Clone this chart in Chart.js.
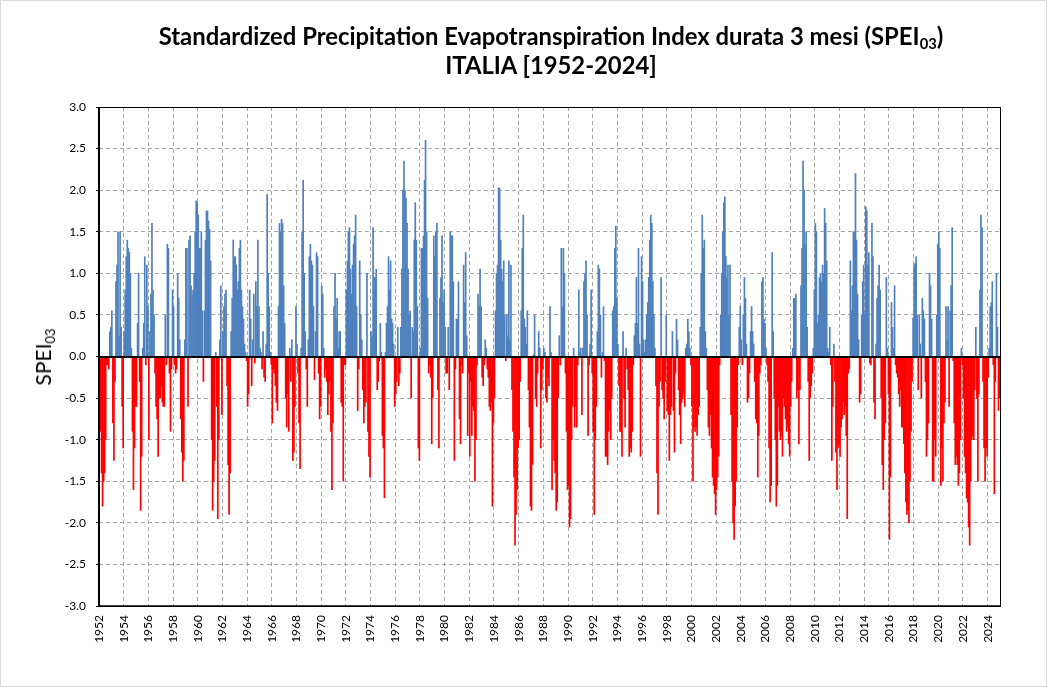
<!DOCTYPE html>
<html>
<head>
<meta charset="utf-8">
<script src="https://cdn.jsdelivr.net/npm/chart.js@4.4.1/dist/chart.umd.min.js"></script>
<style>
  html, body { margin: 0; padding: 0; background: #ffffff; }
  #wrap { position: relative; width: 1049px; height: 689px; overflow: hidden; font-family: Lato, "Open Sans", sans-serif; color: #000; }
  #c { position: absolute; left: 0; top: 0; }
  .t { position: absolute; left: 551px; transform: translateX(-50%); white-space: nowrap; font-weight: bold; font-size: 23px; line-height: 28px; }
  .t sub, #yl sub { font-size: 62%; vertical-align: baseline; position: relative; top: 0.3em; line-height: 0; }
  #yl { position: absolute; left: 43px; top: 357px; transform: translate(-50%, -50%) rotate(-90deg); white-space: nowrap; font-size: 21px; line-height: 26px; }
</style>
</head>
<body>
<div id="wrap">
  <canvas id="c" width="1049" height="689"></canvas>
  <div class="t" id="t1" style="top:22px">Standardized Precipitation Evapotranspiration Index durata 3 mesi (SPEI<sub>03</sub>)</div>
  <div class="t" id="t2" style="top:51px">ITALIA [1952-2024]</div>
  <div id="yl">SPEI<sub>03</sub></div>
</div>
<script>
// ---- data: monthly SPEI-03 values, one row per year ----
const firstYear = 1952;
const lastYear = 2024;

const spei1950s = [
  -0.6, -0.9, -1.4, -1.8, -1.5, -1.4, -1.0, -0.1, -0.1, -0.15, 0.3, 0.35,   // 1952
  0.55, -0.8, -1.25, -0.3, 0.9, 1.1, 1.5, 0.25, 1.5, 0.35, -0.6, -1.1,      // 1953
  0.3, 0.8, 1.2, 1.4, 1.3, 1.25, 1.0, 0.1, -0.9, -1.6, -1.1, -0.6,          // 1954
  -0.6, 0.4, 1.0, -0.3, -1.85, -1.2, 0.1, 0.4, 1.2, -0.1, 1.1, 0.6,         // 1955
  -1.0, 0.3, 0.75, 1.6, 0.8, 0.5, -0.2, -0.6, -0.75, -1.2, -0.5, -0.5,      // 1956
  -0.35, -0.55, -0.6, -0.6, 0.5, -0.1, 1.35, 1.3, -0.2, -0.9, -0.15, 0.8,   // 1957
  0.6, -0.1, -0.2, -0.15, 1.0, 0.7, 0.2, -0.75, -1.15, -1.5, -1.25, 0.2,    // 1958
  1.3, 1.3, -0.6, 1.4, 1.45, 0.85, 0.75, 0.8, 1.0, 1.5, 1.87, 1.85          // 1959
];
const spei1960s = [
  1.7, 1.3, 1.3, 1.5, 0.55, -0.3, 0.55, 1.4, 1.75, 1.75, 1.63, 1.53,        // 1960
  1.15, -1.0, -1.85, -1.5, -1.25, 0.05, -0.6, -1.95, -1.0, 0.2, 0.85, -0.7, // 1961
  0.3, 0.6, 0.75, 0.8, -0.35, -1.3, -1.9, -1.4, 0.3, 0.7, 1.4, 1.2,         // 1962
  1.2, 1.1, 0.8, 0.9, 1.3, 1.4, 0.8, 0.6, 0.45, 0.15, 0.05, -0.05,          // 1963
  -0.6, -0.45, 0.8, 0.45, -0.35, 0.2, 0.75, -0.08, 0.9, 0.6, 1.4, 0.6,      // 1964
  0.1, 0.05, -0.15, 0.3, -0.25, -0.3, 0.15, 1.95, 1.0, 0.6, 0.05, -0.1,     // 1965
  -0.8, -0.15, -0.2, -0.35, -0.55, -0.65, 0.6, 1.6, 1.5, 1.65, 1.6, 0.85,   // 1966
  0.4, -0.5, -0.85, -0.45, -0.9, 0.1, -0.3, 0.2, -1.25, -1.15, -0.6, 0.6,   // 1967
  0.15, -0.2, -0.8, -1.35, 0.1, 1.5, 2.12, 1.0, 0.3, -0.15, -0.6, 0.2,      // 1968
  1.2, 1.35, 1.15, 1.1, 0.6, -0.28, 0.3, 1.25, 1.2, -0.2, -0.75, -0.6       // 1969
];
const spei1970s = [
  0.85, 0.75, 0.1, -0.25, -0.15, -0.3, -0.7, -0.45, -0.3, -0.9, -1.6, -0.8, // 1970
  0.6, 1.0, 0.45, 0.7, 0.1, 0.3, 0.3, -0.55, -0.6, -1.5, -0.1, -0.1,        // 1971
  0.8, 1.15, 1.5, 1.55, 1.05, 0.75, 1.1, 1.35, 1.45, 1.7, 0.6, -0.65,       // 1972
  -0.15, 1.15, 0.5, 0.2, -0.4, -0.8, -0.6, -0.55, 1.0, -0.9, -1.2, -1.45,   // 1973
  0.3, 0.25, 1.55, 0.95, 0.95, 1.05, -0.4, -0.3, -0.05, 0.4, 0.05, -0.95,   // 1974
  -1.1, -1.7, 0.05, 0.4, 0.6, 1.2, 0.8, 1.15, 0.45, 0.4, 0.15, -0.6,        // 1975
  -0.45, -0.3, 0.35, -0.35, -0.2, 0.35, 1.05, 2.0, 2.35, 2.0, 1.9, 1.6,     // 1976
  1.05, 0.5, 0.55, -0.5, 0.35, 0.3, 1.4, 1.85, 1.4, 0.6, -1.1, -1.25,       // 1977
  0.1, 1.3, 1.3, 1.45, 2.12, 2.6, 1.5, 0.7, -0.2, -0.1, -0.25, -1.05,       // 1978
  -0.5, 1.45, 1.2, 1.5, 1.6, -0.4, -1.1, 0.7, 0.95, 1.45, 0.65, 0.8         // 1979
];
const spei1980s = [
  0.35, -0.2, -0.2, 0.35, -0.4, 1.5, 1.45, 1.45, 0.9, -1.25, -0.15, 0.45,   // 1980
  0.45, 0.9, -0.75, -1.05, -0.1, -0.2, 1.1, 0.65, 1.25, 0.25, -0.95, -0.2,  // 1981
  -1.2, -0.3, -0.95, -0.6, -0.65, -1.5, -1.0, -0.1, 0.75, 0.6, 1.05, 0.6,   // 1982
  -0.25, -0.35, -0.1, 0.2, 0.1, -0.15, -0.25, -0.6, -0.65, -0.55, -1.8, -0.8, // 1983
  -0.5, 0.55, 1.0, 1.1, 2.03, 2.02, 1.4, 1.05, 0.9, 1.15, 0.5, -0.05,       // 1984
  0.5, 0.25, 1.15, 0.2, 1.1, -0.4, -0.9, -1.45, -2.27, -1.9, -1.6, -1.1,    // 1985
  -1.0, -0.3, 0.55, 1.3, 1.7, 0.45, 0.35, 0.15, 0.55, -0.4, -0.85, -1.8,    // 1986
  -1.85, -1.3, 0.02, 0.5, -0.5, -0.6, -0.2, 0.3, 0.1, -1.1, -0.4, -0.15,    // 1987
  0.1, 0.05, -0.5, -0.55, -0.25, -0.35, 0.6, 0.05, -1.6, -1.0, -1.25, -1.4, // 1988
  -1.85, -1.75, -0.5, 0.25, -0.1, 1.3, 0.6, 1.3, 1.0, -0.2, -0.9, -1.6      // 1989
];
const spei1990s = [
  -1.55, -2.05, -1.95, -1.0, -0.6, 0.1, -0.85, -0.6, -0.85, -0.1, 0.8, 0.05, // 1990
  0.1, -0.7, 0.1, 0.9, 1.0, 1.15, 0.5, -0.95, -0.1, 0.15, 0.8, -0.2,        // 1991
  -0.9, -1.9, -1.0, -0.6, 0.3, 1.1, 1.05, 0.5, -0.25, 0.05, 0.6, -0.05,     // 1992
  -1.2, -1.2, -1.3, -0.9, -0.65, -1.0, -0.5, 0.55, 0.6, 1.3, 1.57, 0.7,     // 1993
  0.15, -0.35, -0.9, -0.9, -1.2, 0.3, -0.5, -0.85, 0.1, -0.15, -0.4, -1.2,  // 1994
  -1.1, -1.15, -0.9, -0.1, 0.25, 0.4, 0.95, 0.4, 1.3, 0.15, -1.2, 1.2,      // 1995
  0.9, 0.2, 0.05, 0.2, 0.5, 0.65, 0.95, 1.4, 1.7, 1.6, 0.9, 0.5,            // 1996
  0.1, -0.35, -1.4, -1.9, -0.6, -0.3, 0.95, -0.4, -0.5, -0.75, -0.3, 0.5,   // 1997
  -0.65, -0.7, -1.25, -0.7, -0.6, 0.3, -0.65, -1.15, -0.2, 0.45, 0.2, -0.4, // 1998
  -0.7, -1.05, -0.55, -0.5, -0.45, -0.6, 0.1, 0.15, 0.45, 0.3, 0.1, -0.1    // 1999
];
const spei2000s = [
  -0.6, -1.5, -0.85, -0.9, -0.85, -0.95, -0.7, -0.6, 0.35, 1.0, 1.7, 1.3,   // 2000
  1.4, 0.3, 0.1, -0.4, -0.85, -0.95, -0.7, -1.1, -1.45, -1.55, -1.65, -1.9, // 2001
  -1.6, -1.45, -1.2, -0.1, 0.5, 1.0, 1.5, 1.85, 1.92, 1.2, 0.95, 1.1,       // 2002
  0.5, 1.1, -0.7, -1.5, -2.0, -2.2, -1.8, -1.5, -0.85, -0.1, 0.35, 0.6,     // 2003
  0.2, -0.1, 0.5, 0.95, 0.7, 0.15, -0.55, -0.5, -0.2, 0.3, 0.6, 0.3,        // 2004
  0.15, -0.3, -0.75, -0.8, -1.45, -0.95, -0.2, -0.1, 0.9, 0.95, 0.45, 0.4,  // 2005
  0.1, -0.1, -0.3, -1.1, -1.75, -1.55, 1.25, 0.3, -0.5, -1.0, -1.8, -1.55,  // 2006
  -0.6, -0.9, -1.0, -0.95, -1.2, -0.5, -0.6, -0.75, -0.9, -0.85, -1.05, -1.2, // 2007
  -0.6, -0.3, 0.1, 0.7, 0.7, 0.75, -0.5, -0.4, -1.05, -0.4, 0.85, 1.3,      // 2008
  2.35, 2.0, 1.35, 1.5, 0.35, -0.3, -1.25, -0.5, -0.35, -0.2, 0.1, 0.8      // 2009
];
const spei2010s = [
  1.6, 1.5, 0.4, 0.5, 0.95, 1.0, 0.9, 1.1, 1.0, 1.78, 1.6, 1.15,           // 2010
  0.1, 0.05, 0.35, -0.1, -1.25, -0.6, 0.15, -0.3, -1.15, -1.6, -1.1, -1.05, // 2011
  -1.2, -0.85, -0.75, -0.55, -0.7, -0.6, -0.95, -1.95, -0.2, -0.15, 1.15, 0.55, // 2012
  0.85, 1.5, 1.5, 2.2, 1.4, 0.75, 0.2, -0.55, -0.45, 0.5, 0.9, 1.1,         // 2013
  0.5, 1.8, 1.75, 1.1, 1.25, -0.08, -0.1, 1.6, 1.2, -0.55, -0.75, 0.15,     // 2014
  0.7, 0.85, 1.1, 0.8, -0.5, -1.3, -1.6, -1.0, -0.8, 0.95, 0.1, -0.45,      // 2015
  -2.2, -1.45, 0.65, 0.35, 0.1, 0.85, -0.1, -0.2, -0.25, -0.45, -0.6, -0.4, // 2016
  -0.85, -0.85, -1.05, -1.4, -1.75, -1.9, -1.85, -2.0, -1.5, -0.9, -0.3, 0.46, // 2017
  1.1, 1.12, 1.2, 0.5, -0.4, 0.5, 0.15, -0.5, 0.7, 0.55, 0.45, -0.3,        // 2018
  -1.2, -1.0, -0.8, 1.0, 0.85, 0.45, -1.5, -1.5, -1.0, -1.2, 0.5, 1.35      // 2019
];
const spei2020s = [
  1.5, 1.3, -1.55, -1.1, -1.5, -0.8, -0.55, 0.6, 0.2, 0.6, -0.6, 0.55,      // 2020
  0.85, 1.55, -0.05, -0.8, -1.3, -1.2, -1.3, -1.55, -1.4, -1.0, 0.1, -0.1,  // 2021
  -0.5, -1.2, -1.4, -1.7, -1.75, -2.05, -2.27, -1.5, -1.0, -0.95, -1.0, -0.4, // 2022
  0.35, -0.5, -1.5, -0.45, 0.8, 1.7, 1.55, -0.3, -1.1, -1.5, -1.1, -1.2,    // 2023
  -0.25, 0.1, 0.6, 0.65, 0.9, -0.1, -1.65, -0.3, 1.0, 0.35, -0.65, -0.5     // 2024
];

const yTickValues = [3.0, 2.5, 2.0, 1.5, 1.0, 0.5, 0.0, -0.5, -1.0, -1.5, -2.0, -2.5, -3.0];
const yearTickStep = 2;

// ---- assembled series / categories ----
const speiValues = [].concat(spei1950s, spei1960s, spei1970s, spei1980s, spei1990s, spei2000s, spei2010s, spei2020s);
const months = [];
for (let y = firstYear; y <= lastYear; y++) {
  for (let m = 1; m <= 12; m++) months.push(y + '-' + String(m).padStart(2, '0'));
}
const yearTicks = [];
for (let y = firstYear; y <= lastYear; y += yearTickStep) yearTicks.push(y);

// ---- styles ----
const POS_COLOR = '#4F81BD';
const NEG_COLOR = '#FF0000';
const GRID_COLOR = '#A6A6A6';
const TICK_FONT = { family: 'Lato', size: 12 };

function fitTitle() {
  const t1 = document.getElementById('t1');
  const t2 = document.getElementById('t2');
  t1.style.fontSize = '23px';
  const w = t1.getBoundingClientRect().width;
  if (w > 0) {
    const fs = 23 * 785 / w;
    t1.style.fontSize = fs.toFixed(2) + 'px';
    t2.style.fontSize = fs.toFixed(2) + 'px';
  }
}
fitTitle();
if (document.fonts && document.fonts.ready) document.fonts.ready.then(fitTitle);

const framePlugin = {
  id: 'frame',
  afterDatasetsDraw(chart) {
    const ctx = chart.ctx;
    const a = chart.chartArea;
    const y0 = chart.scales.y.getPixelForValue(0);
    ctx.save();
    ctx.setLineDash([]);
    ctx.strokeStyle = '#000';
    // thin outer frame of the plot area
    ctx.lineWidth = 1;
    ctx.strokeRect(Math.round(a.left) + 0.5, Math.round(a.top) + 0.5,
                   Math.round(a.right) - Math.round(a.left), Math.round(a.bottom) - Math.round(a.top));
    // left axis
    ctx.lineWidth = 2;
    ctx.beginPath();
    ctx.moveTo(Math.round(a.left), a.top);
    ctx.lineTo(Math.round(a.left), a.bottom + 1);
    ctx.stroke();
    // bottom axis
    ctx.lineWidth = 1.5;
    ctx.beginPath();
    ctx.moveTo(a.left - 1, Math.round(a.bottom));
    ctx.lineTo(a.right + 0.5, Math.round(a.bottom));
    ctx.stroke();
    // zero line
    ctx.lineWidth = 2;
    ctx.beginPath();
    ctx.moveTo(a.left, Math.round(y0));
    ctx.lineTo(a.right, Math.round(y0));
    ctx.stroke();
    // light outer chart border
    ctx.lineWidth = 1;
    ctx.strokeStyle = '#D9D9D9';
    ctx.strokeRect(0.5, 0.5, 1046, 686);
    ctx.restore();
  }
};

new Chart(document.getElementById('c'), {
  type: 'bar',
  data: {
    labels: months,
    datasets: [{
      label: 'SPEI03',
      data: speiValues,
      backgroundColor: speiValues.map(v => v >= 0 ? POS_COLOR : NEG_COLOR),
      borderWidth: 0,
      barPercentage: 1.0,
      categoryPercentage: 1.0
    }]
  },
  options: {
    responsive: false,
    animation: false,
    layout: { padding: { top: 107, right: 49, bottom: 0, left: 0 } },
    plugins: {
      legend: { display: false },
      title: { display: false },
      tooltip: { enabled: false }
    },
    scales: {
      x: {
        type: 'category',
        display: false,
        offset: true,
        grid: { display: false }
      },
      xt: {
        type: 'linear',
        position: 'bottom',
        offset: false,
        min: 0,
        max: speiValues.length,
        afterFit(s) { s.height = 83; },
        afterBuildTicks(s) { s.ticks = yearTicks.map(yr => ({ value: (yr - firstYear) * 12 })); },
        ticks: {
          autoSkip: false,
          minRotation: 90,
          maxRotation: 90,
          padding: 9,
          font: TICK_FONT,
          color: '#000',
          callback: v => String(firstYear + Math.round(v / 12))
        },
        grid: { color: GRID_COLOR, lineWidth: 1, drawTicks: false, offset: false },
        border: { display: false, dash: [4, 3] }
      },
      y: {
        min: -3,
        max: 3,
        afterFit(s) { s.width = 99; },
        afterBuildTicks(s) { s.ticks = yTickValues.map(v => ({ value: v })); },
        ticks: {
          padding: 10,
          font: TICK_FONT,
          color: '#000',
          callback: v => Number(v).toFixed(1)
        },
        grid: {
          color: GRID_COLOR,
          lineWidth: 1,
          drawTicks: true,
          tickLength: 3,
          tickColor: '#000',
          tickBorderDash: []
        },
        border: { display: false, dash: [4, 3] }
      }
    }
  },
  plugins: [framePlugin]
});
</script>
</body>
</html>
